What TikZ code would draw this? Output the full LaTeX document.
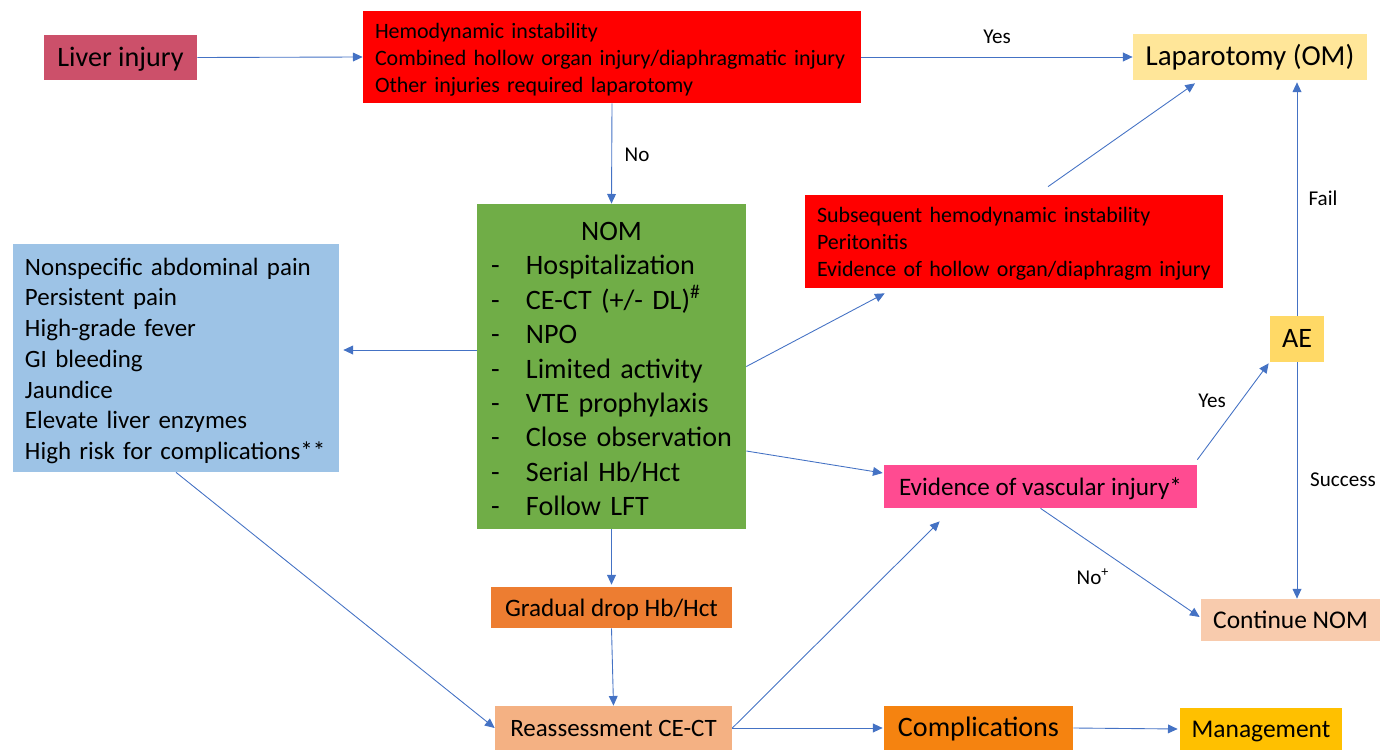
\documentclass[tikz,border=0pt]{standalone}
\usepackage{fontspec}
\setmainfont{Carlito}
\usetikzlibrary{arrows.meta}
\newdimen\px \px=0.02cm
\newcommand{\lift}[1]{\rule{0pt}{\dimexpr0.72em+#1\px\relax}}
\definecolor{liverc}{RGB}{204,80,106}
\definecolor{redc}{RGB}{255,0,0}
\definecolor{lapc}{RGB}{255,230,153}
\definecolor{aec}{RGB}{255,217,102}
\definecolor{pinkc}{RGB}{255,75,145}
\definecolor{contc}{RGB}{248,203,173}
\definecolor{gradc}{RGB}{237,125,49}
\definecolor{reasc}{RGB}{244,177,131}
\definecolor{compc}{RGB}{245,131,16}
\definecolor{mgmtc}{RGB}{255,192,0}
\definecolor{greenc}{RGB}{112,173,71}
\definecolor{bluec}{RGB}{157,195,230}
\definecolor{arrc}{RGB}{68,114,196}
\tikzset{
  box/.style={draw=none, inner sep=0pt, text=black},
  one/.style={box, text height=23.5\px, text depth=6\px},
  arr/.style={draw=arrc, line width=0.5pt, -{Triangle[length=5.5pt,width=5pt]}},
  lbl/.style={inner sep=0pt, font=\fontsize{12}{14}\selectfont},
}
\begin{document}
\begin{tikzpicture}[x=0.02cm,y=-0.02cm]
\useasboundingbox (0,0) rectangle (1380,750);

\node[one, fill=liverc, minimum width=153\px, minimum height=45\px, font=\fontsize{16}{19}\selectfont] (liver) at (120.5,57.5) {Liver injury};
\node[box, fill=redc, minimum width=498\px, minimum height=92\px, text width=474\px, align=left, font=\fontsize{12.5}{15.3}\selectfont] (top) at (612,57) {\lift{5}Hemodynamic instability\\Combined hollow organ injury/diaphragmatic injury\\Other injuries required laparotomy};
\node[one, fill=lapc, minimum width=234\px, minimum height=46\px, font=\fontsize{16.5}{19}\selectfont] (lap) at (1250,57) {Laparotomy (OM)};
\node[box, fill=greenc, minimum width=269\px, minimum height=325\px, text width=241\px, align=left, font=\fontsize{16}{19.6}\selectfont] (nom) at (611.5,366.5) {\lift{3}\hfill NOM\hfill\mbox{}\\
\makebox[35\px][l]{-}Hospitalization\\
\makebox[35\px][l]{-}CE-CT (+/- DL)\textsuperscript{\#}\\
\makebox[35\px][l]{-}NPO\\
\makebox[35\px][l]{-}Limited activity\\
\makebox[35\px][l]{-}VTE prophylaxis\\
\makebox[35\px][l]{-}Close observation\\
\makebox[35\px][l]{-}Serial Hb/Hct\\
\makebox[35\px][l]{-}Follow LFT};
\node[box, fill=bluec, minimum width=326\px, minimum height=228\px, text width=302\px, align=left, font=\fontsize{14.2}{17.5}\selectfont] (blue) at (176,358) {\lift{5}Nonspecific abdominal pain\\Persistent pain\\High-grade fever\\GI bleeding\\Jaundice\\Elevate liver enzymes\\High risk for complications**};
\node[box, fill=redc, minimum width=418\px, minimum height=93\px, text width=394\px, align=left, font=\fontsize{12.5}{15.3}\selectfont] (rred) at (1014,241.5) {\lift{4}Subsequent hemodynamic instability\\Peritonitis\\Evidence of hollow organ/diaphragm injury};
\node[one, fill=aec, minimum width=54\px, minimum height=46\px, font=\fontsize{16}{19}\selectfont] (ae) at (1297,339) {AE};
\node[one, fill=pinkc, minimum width=313\px, minimum height=43\px, font=\fontsize{14.3}{17}\selectfont] (evid) at (1040.5,486.5) {Evidence of vascular injury*};
\node[one, fill=contc, minimum width=179\px, minimum height=42\px, font=\fontsize{14.5}{17}\selectfont] (cont) at (1290.5,620) {Continue NOM};
\node[one, fill=gradc, minimum width=241\px, minimum height=41\px, font=\fontsize{14.3}{17}\selectfont] (grad) at (611.5,607.5) {Gradual drop Hb/Hct};
\node[one, fill=reasc, minimum width=237\px, minimum height=44\px, font=\fontsize{14.2}{17}\selectfont] (reas) at (613.5,728) {Reassessment CE-CT};
\node[one, fill=compc, minimum width=189\px, minimum height=44\px, font=\fontsize{16}{19}\selectfont] (comp) at (978.5,728) {Complications};
\node[one, fill=mgmtc, minimum width=162\px, minimum height=42\px, font=\fontsize{14.5}{17}\selectfont] (mgmt) at (1261,729) {Management};

% connectors
\draw[arr] (liver.east) -- (top.west);
\draw[arr] (top.east) -- (lap.west);
\draw[arr] (top.south) -- (nom.north);
\draw[arr] ([yshift=16.5\px]nom.west) -- ([xshift=4\px,yshift=8\px]blue.east);
\draw[arr] (nom.east) -- ([xshift=80\px,yshift=-5\px]rred.south west);
\draw[arr] ([xshift=34\px,yshift=8\px]rred.north) -- ([xshift=-55\px,yshift=-3\px]lap.south);
\draw[arr] ([yshift=-84.5\px]nom.east) -- ([xshift=-1\px,yshift=13.5\px]evid.west);
\draw[arr] ([yshift=5\px]evid.north east) -- ([xshift=-1\px,yshift=-1\px]ae.south west);
\draw[arr] (ae.north) -- ([yshift=-2\px]lap.south -| ae.north);
\draw[arr] (ae.south) -- (cont.north -| ae.south);
\draw[arr] (evid.south) -- ([xshift=-1\px,yshift=3\px]cont.west);
\draw[arr] (nom.south) -- ([yshift=2\px]grad.north);
\draw[arr] (grad.south) -- (reas.north);
\draw[arr] (blue.south) -- (reas.west);
\draw[arr] (reas.east) -- ([xshift=56\px,yshift=-13\px]evid.south west);
\draw[arr] (reas.east) -- ([xshift=-1\px]comp.west);
\draw[arr] (comp.east) -- ([xshift=-2\px]mgmt.west);

% labels
\node[lbl] (lyes1) at (997,37) {Yes};
\node[lbl] (lno1) at (637,155) {No};
\node[lbl] (lfail) at (1323,198) {Fail};
\node[lbl] (lyes2) at (1212,401) {Yes};
\node[lbl] (lsucc) at (1343,480) {Success};
\node[lbl] (lno2) at (1093,577) {No\textsuperscript{+}};
\end{tikzpicture}
\end{document}
